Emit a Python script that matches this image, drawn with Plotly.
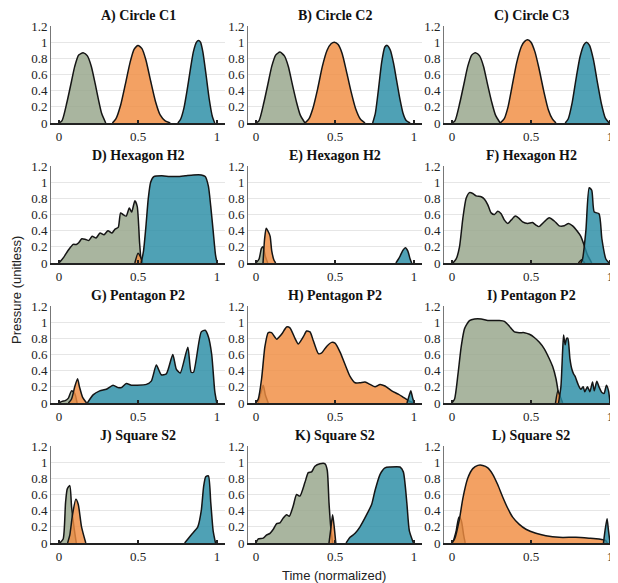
import plotly.graph_objects as go

# The page body has an 8px margin, so the figure is sized/offset to fit the window.
OFF = 8
W, H = 618 - OFF, 583 - OFF

TITLES = ["A) Circle C1", "B) Circle C2", "C) Circle C3",
          "D) Hexagon H2", "E) Hexagon H2", "F) Hexagon H2",
          "G) Pentagon P2", "H) Pentagon P2", "I) Pentagon P2",
          "J) Square S2", "K) Square S2", "L) Square S2"]
Y_TICKS = [0, 0.2, 0.4, 0.6, 0.8, 1, 1.2]
Y_TICK_LABELS = ["0", "0.2", "0.4", "0.6", "0.8", "1", "1.2"]
X_TICKS = [0, 0.5, 1]
X_TICK_LABELS = ["0", "0.5", "1"]

# ---- Panel A
A_g_x = [0, 0.02, 0.05, 0.08, 0.10, 0.125, 0.153, 0.18, 0.205, 0.23, 0.25, 0.27, 0.296]
A_g_y = [0, 0.03, 0.25, 0.52, 0.70, 0.84, 0.87, 0.83, 0.70, 0.48, 0.29, 0.12, 0]
A_o_x = [0.338, 0.36, 0.39, 0.42, 0.45, 0.475, 0.5, 0.525, 0.55, 0.58, 0.61, 0.64, 0.67, 0.704]
A_o_y = [0, 0.05, 0.22, 0.48, 0.75, 0.91, 0.96, 0.92, 0.78, 0.52, 0.27, 0.10, 0.03, 0]
A_t_x = [0.752, 0.77, 0.79, 0.81, 0.83, 0.85, 0.87, 0.882, 0.895, 0.91, 0.93, 0.95, 0.97, 0.985]
A_t_y = [0, 0.05, 0.18, 0.40, 0.65, 0.88, 1.0, 1.02, 1.0, 0.88, 0.6, 0.3, 0.08, 0]
# ---- Panel B
B_g_x = [0, 0.02, 0.05, 0.08, 0.10, 0.125, 0.152, 0.18, 0.205, 0.23, 0.255, 0.28, 0.31]
B_g_y = [0, 0.03, 0.25, 0.52, 0.70, 0.84, 0.877, 0.83, 0.70, 0.48, 0.27, 0.10, 0]
B_o_x = [0.31, 0.335, 0.36, 0.39, 0.42, 0.45, 0.475, 0.496, 0.52, 0.545, 0.57, 0.60, 0.63, 0.66, 0.69]
B_o_y = [0, 0.05, 0.18, 0.42, 0.70, 0.90, 0.98, 1.0, 0.97, 0.86, 0.66, 0.40, 0.18, 0.05, 0]
B_t_x = [0.738, 0.755, 0.775, 0.795, 0.815, 0.83, 0.85, 0.87, 0.89, 0.91, 0.93, 0.95, 0.975]
B_t_y = [0, 0.12, 0.42, 0.75, 0.94, 0.96, 0.90, 0.74, 0.52, 0.30, 0.12, 0.03, 0]
# ---- Panel C
C_g_x = [0, 0.02, 0.05, 0.08, 0.10, 0.125, 0.149, 0.175, 0.20, 0.225, 0.25, 0.275, 0.305]
C_g_y = [0, 0.03, 0.25, 0.52, 0.70, 0.84, 0.87, 0.83, 0.70, 0.48, 0.27, 0.10, 0]
C_o_x = [0.305, 0.33, 0.355, 0.38, 0.41, 0.44, 0.46, 0.479, 0.50, 0.525, 0.55, 0.58, 0.61, 0.635, 0.658]
C_o_y = [0, 0.05, 0.20, 0.45, 0.75, 0.95, 1.01, 1.03, 1.0, 0.88, 0.68, 0.40, 0.16, 0.05, 0]
C_t_x = [0.716, 0.735, 0.76, 0.785, 0.81, 0.835, 0.851, 0.87, 0.895, 0.92, 0.945, 0.97, 0.994]
C_t_y = [0, 0.05, 0.25, 0.55, 0.82, 0.97, 1.0, 0.96, 0.78, 0.50, 0.24, 0.06, 0]
# ---- Panel D
D_g_x = [0, 0.03, 0.06, 0.09, 0.11, 0.125, 0.145, 0.17, 0.19, 0.21, 0.235, 0.26, 0.285, 0.31,
         0.335, 0.355, 0.375, 0.39, 0.405, 0.425, 0.445, 0.46, 0.48, 0.495, 0.51, 0.52]
D_g_y = [0, 0.07, 0.16, 0.23, 0.23, 0.25, 0.30, 0.29, 0.28, 0.33, 0.31, 0.37, 0.35, 0.40,
         0.37, 0.42, 0.44, 0.62, 0.60, 0.58, 0.68, 0.63, 0.77, 0.70, 0.25, 0]
D_o_x = [0.48, 0.50, 0.515, 0.53]
D_o_y = [0, 0.12, 0.08, 0]
D_t_x = [0.52, 0.535, 0.55, 0.565, 0.58, 0.60, 0.65, 0.70, 0.75, 0.80, 0.85, 0.90, 0.925,
         0.945, 0.96, 0.975, 0.99, 1.0]
D_t_y = [0, 0.15, 0.45, 0.8, 1.0, 1.07, 1.08, 1.07, 1.07, 1.08, 1.09, 1.09, 1.07,
         0.95, 0.7, 0.4, 0.1, 0]
# ---- Panel E
E_g_x = [0.0, 0.02, 0.035, 0.045, 0.06, 0.075]
E_g_y = [0, 0.05, 0.18, 0.20, 0.08, 0]
E_o_x = [0.045, 0.055, 0.065, 0.08, 0.09, 0.10, 0.115, 0.125]
E_o_y = [0, 0.30, 0.43, 0.38, 0.33, 0.15, 0.03, 0]
E_t_x = [0.885, 0.91, 0.93, 0.945, 0.96, 0.975, 0.985]
E_t_y = [0, 0.08, 0.16, 0.19, 0.15, 0.05, 0]
# ---- Panel F
F_g_x = [0.006, 0.027, 0.048, 0.069, 0.09, 0.111, 0.132, 0.153, 0.185, 0.206, 0.227, 0.248,
         0.269, 0.29, 0.311, 0.332, 0.353, 0.374, 0.401, 0.426, 0.447, 0.479, 0.51, 0.53,
         0.55, 0.584, 0.615, 0.647, 0.678, 0.71, 0.737, 0.763, 0.794, 0.815, 0.836, 0.857, 0.884]
F_g_y = [0, 0.05, 0.2, 0.55, 0.8, 0.87, 0.86, 0.83, 0.82, 0.79, 0.72, 0.62,
         0.60, 0.64, 0.61, 0.53, 0.49, 0.53, 0.58, 0.55, 0.51, 0.49, 0.50, 0.47,
         0.45, 0.51, 0.56, 0.52, 0.46, 0.46, 0.49, 0.46, 0.39, 0.33, 0.22, 0.10, 0]
F_o_x = [0.80, 0.82, 0.84]
F_o_y = [0, 0.04, 0]
F_t_x = [0.815, 0.826, 0.847, 0.868, 0.884, 0.90, 0.93, 0.948, 0.973, 0.994]
F_t_y = [0, 0.05, 0.4, 0.93, 0.9, 0.63, 0.61, 0.3, 0.05, 0]
# ---- Panel G
G_g_x = [0.0, 0.02, 0.04, 0.06, 0.08, 0.10, 0.115]
G_g_y = [0, 0.02, 0.03, 0.06, 0.15, 0.12, 0]
G_o_x = [0.06, 0.08, 0.10, 0.118, 0.13, 0.15, 0.175]
G_o_y = [0, 0.05, 0.2, 0.3, 0.2, 0.07, 0]
G_t_x = [0.18, 0.216, 0.258, 0.3, 0.342, 0.374, 0.395, 0.426, 0.458, 0.49, 0.553, 0.584,
         0.616, 0.647, 0.679, 0.72, 0.742, 0.767, 0.815, 0.836, 0.851, 0.9, 0.925, 0.945,
         0.966, 0.985, 0.998]
G_t_y = [0, 0.1, 0.15, 0.17, 0.22, 0.19, 0.19, 0.24, 0.22, 0.22, 0.23, 0.27,
         0.47, 0.35, 0.36, 0.6, 0.42, 0.37, 0.69, 0.38, 0.38, 0.88, 0.9, 0.82,
         0.6, 0.15, 0]
# ---- Panel H
H_g_x = [0.015, 0.03, 0.046, 0.06, 0.078]
H_g_y = [0, 0.12, 0.22, 0.10, 0]
H_o_x = [0.0, 0.015, 0.036, 0.057, 0.078, 0.099, 0.131, 0.162, 0.194, 0.215, 0.247, 0.268,
         0.30, 0.32, 0.342, 0.363, 0.395, 0.416, 0.447, 0.479, 0.50, 0.532, 0.563, 0.595,
         0.627, 0.658, 0.69, 0.722, 0.753, 0.785, 0.816, 0.859, 0.90, 0.932, 0.964, 0.996]
H_o_y = [0, 0.05, 0.3, 0.7, 0.87, 0.87, 0.79, 0.85, 0.94, 0.93, 0.8, 0.73,
         0.82, 0.89, 0.88, 0.77, 0.61, 0.62, 0.70, 0.75, 0.74, 0.63, 0.48, 0.33,
         0.25, 0.25, 0.26, 0.23, 0.20, 0.23, 0.21, 0.15, 0.11, 0.07, 0.03, 0]
H_t_x = [0.955, 0.97, 0.979, 0.99, 1.0]
H_t_y = [0, 0.10, 0.15, 0.07, 0]
# ---- Panel I
I_g_x = [0.0, 0.017, 0.038, 0.059, 0.08, 0.111, 0.143, 0.185, 0.227, 0.258, 0.30, 0.332,
         0.363, 0.395, 0.426, 0.458, 0.49, 0.521, 0.553, 0.584, 0.615, 0.637, 0.658, 0.674, 0.689]
I_g_y = [0, 0.05, 0.35, 0.7, 0.92, 1.02, 1.04, 1.04, 1.02, 1.02, 1.02, 1.01,
         0.95, 0.88, 0.87, 0.87, 0.85, 0.81, 0.75, 0.67, 0.55, 0.45, 0.30, 0.12, 0]
I_o_x = [0.655, 0.67, 0.685, 0.70]
I_o_y = [0, 0.15, 0.08, 0]
I_t_x = [0.674, 0.689, 0.70, 0.706, 0.716, 0.725, 0.733, 0.746, 0.758, 0.769, 0.779, 0.788,
         0.80, 0.815, 0.83, 0.84, 0.857, 0.872, 0.889, 0.90, 0.916, 0.93, 0.948, 0.962,
         0.977, 0.99, 1.0]
I_t_y = [0, 0.2, 0.65, 0.84, 0.72, 0.8, 0.8, 0.55, 0.42, 0.36, 0.33, 0.28,
         0.22, 0.17, 0.2, 0.14, 0.2, 0.14, 0.26, 0.15, 0.27, 0.2, 0.13, 0.12,
         0.22, 0.15, 0]
# ---- Panel J
J_g_x = [0.006, 0.027, 0.042, 0.053, 0.069, 0.08, 0.095, 0.11]
J_g_y = [0, 0.05, 0.5, 0.67, 0.71, 0.45, 0.2, 0]
J_o_x = [0.055, 0.069, 0.086, 0.107, 0.122, 0.143, 0.17]
J_o_y = [0, 0.1, 0.35, 0.54, 0.48, 0.2, 0]
J_t_x = [0.795, 0.836, 0.878, 0.90, 0.915, 0.928, 0.945, 0.96, 0.975, 0.99]
J_t_y = [0, 0.1, 0.2, 0.4, 0.7, 0.82, 0.83, 0.5, 0.15, 0]
# ---- Panel K
K_g_x = [0.0, 0.015, 0.046, 0.068, 0.089, 0.11, 0.131, 0.152, 0.173, 0.194, 0.211, 0.236,
         0.257, 0.278, 0.31, 0.331, 0.352, 0.373, 0.405, 0.437, 0.451, 0.462, 0.473, 0.485]
K_g_y = [0, 0.05, 0.06, 0.10, 0.12, 0.17, 0.24, 0.25, 0.31, 0.35, 0.33, 0.46,
         0.60, 0.58, 0.75, 0.87, 0.88, 0.95, 0.98, 0.98, 0.90, 0.5, 0.2, 0]
K_o_x = [0.462, 0.475, 0.485, 0.495, 0.505]
K_o_y = [0, 0.2, 0.35, 0.2, 0]
K_t_x = [0.57, 0.595, 0.627, 0.658, 0.70, 0.732, 0.753, 0.785, 0.816, 0.848, 0.911, 0.932,
         0.954, 0.97, 0.996]
K_t_y = [0, 0.07, 0.12, 0.2, 0.35, 0.48, 0.65, 0.85, 0.93, 0.94, 0.94, 0.88,
         0.5, 0.15, 0]
# ---- Panel L
L_g_x = [0.006, 0.027, 0.044, 0.059, 0.074, 0.084]
L_g_y = [0, 0.15, 0.32, 0.28, 0.10, 0]
L_o_x = [0.0, 0.017, 0.048, 0.069, 0.10, 0.132, 0.164, 0.195, 0.227, 0.258, 0.29, 0.321,
         0.353, 0.384, 0.426, 0.468, 0.531, 0.594, 0.678, 0.784, 0.867, 0.93, 0.973, 0.983]
L_o_y = [0, 0.05, 0.3, 0.55, 0.8, 0.92, 0.96, 0.96, 0.93, 0.85, 0.72, 0.57,
         0.43, 0.32, 0.23, 0.17, 0.12, 0.09, 0.07, 0.07, 0.06, 0.05, 0.03, 0]
L_t_x = [0.958, 0.97, 0.981, 0.99, 1.0]
L_t_y = [0, 0.18, 0.30, 0.15, 0]

PANELS = [
    [(A_g_x, A_g_y), (A_o_x, A_o_y), (A_t_x, A_t_y)],
    [(B_g_x, B_g_y), (B_o_x, B_o_y), (B_t_x, B_t_y)],
    [(C_g_x, C_g_y), (C_o_x, C_o_y), (C_t_x, C_t_y)],
    [(D_g_x, D_g_y), (D_o_x, D_o_y), (D_t_x, D_t_y)],
    [(E_g_x, E_g_y), (E_o_x, E_o_y), (E_t_x, E_t_y)],
    [(F_g_x, F_g_y), (F_o_x, F_o_y), (F_t_x, F_t_y)],
    [(G_g_x, G_g_y), (G_o_x, G_o_y), (G_t_x, G_t_y)],
    [(H_g_x, H_g_y), (H_o_x, H_o_y), (H_t_x, H_t_y)],
    [(I_g_x, I_g_y), (I_o_x, I_o_y), (I_t_x, I_t_y)],
    [(J_g_x, J_g_y), (J_o_x, J_o_y), (J_t_x, J_t_y)],
    [(K_g_x, K_g_y), (K_o_x, K_o_y), (K_t_x, K_t_y)],
    [(L_g_x, L_g_y), (L_o_x, L_o_y), (L_t_x, L_t_y)],
]

FILLS = ["rgba(150,165,138,0.82)", "rgba(240,140,65,0.82)", "rgba(40,140,165,0.82)"]
EDGE = "#151515"

# positions in reference-window pixels
COL_PX = [(51, 225), (248, 422), (444, 618)]
ROW_TOP = [26, 166, 306, 446]
PLOT_H = 97

SERIF = "Liberation Serif, Times New Roman, serif"
SANS = "Liberation Sans, Arial, Helvetica, sans-serif"


def px_x(v):
    return (v - OFF) / W


def px_y(v):
    return 1 - (v - OFF) / H


fig = go.Figure()
layout = dict(width=W, height=H, margin=dict(l=0, r=0, t=0, b=0, autoexpand=False),
              paper_bgcolor="white", plot_bgcolor="white", showlegend=False,
              annotations=[])

for i, series in enumerate(PANELS):
    r, c = divmod(i, 3)
    n = "" if i == 0 else str(i + 1)
    x0, x1 = COL_PX[c]
    top = ROW_TOP[r]
    bot = top + PLOT_H
    layout["xaxis" + n] = dict(
        domain=[px_x(x0), min(1.0, px_x(x1))], range=[-0.05, 1.05], anchor="y" + n,
        automargin=False,
        tickvals=X_TICKS, ticktext=X_TICK_LABELS, ticks="inside", ticklen=3,
        tickwidth=1.5, tickcolor="#222", showline=True, linecolor="#222",
        linewidth=2, showgrid=False, zeroline=False,
        tickfont=dict(family=SERIF, size=13, color="#222"))
    layout["yaxis" + n] = dict(
        domain=[px_y(bot), px_y(top)], range=[0, 1.2], anchor="x" + n,
        automargin=False,
        tickvals=Y_TICKS, ticktext=Y_TICK_LABELS, ticks="", showline=True,
        linecolor="#777", linewidth=1, showgrid=True, gridcolor="#e6e6e6",
        gridwidth=1, zeroline=False,
        tickfont=dict(family=SERIF, size=13, color="#222"))
    for k, (xs, ys) in enumerate(series):
        fig.add_trace(go.Scatter(
            x=xs, y=ys, mode="lines", fill="tozeroy", fillcolor=FILLS[k],
            line=dict(color=EDGE, width=1.5, shape="spline", smoothing=0.6),
            xaxis="x" + n, yaxis="y" + n, hoverinfo="skip"))
    layout["annotations"].append(dict(
        text="<b>" + TITLES[i] + "</b>", x=px_x((x0 + x1) / 2), y=px_y(top - 10),
        xref="paper", yref="paper", showarrow=False, xanchor="center", yanchor="middle",
        font=dict(family=SERIF, size=14, color="#111")))

layout["annotations"].append(dict(
    text="Pressure (unitless)", x=px_x(16), y=px_y(290), xref="paper", yref="paper",
    showarrow=False, textangle=-90, xanchor="center", yanchor="middle",
    font=dict(family=SANS, size=13, color="#222")))
layout["annotations"].append(dict(
    text="Time (normalized)", x=px_x(334), y=px_y(575), xref="paper", yref="paper",
    showarrow=False, xanchor="center", yanchor="middle",
    font=dict(family=SANS, size=13, color="#222")))

fig.update_layout(**layout)
fig.write_html("out.html")
